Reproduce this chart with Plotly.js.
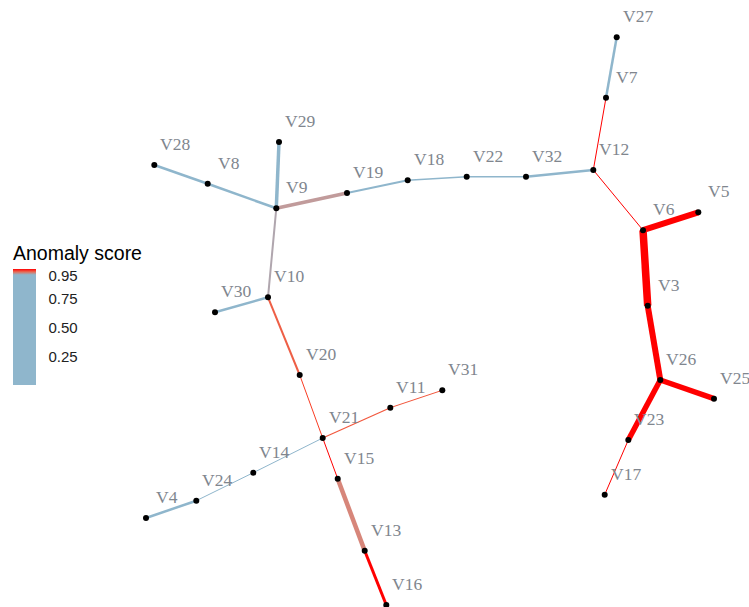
<!DOCTYPE html>
<html>
<head>
<meta charset="utf-8">
<script src="https://cdn.plot.ly/plotly-3.0.1.min.js"></script>
<style>html,body{margin:0;padding:0;background:#fff;}#chart{width:749px;height:607px;}</style>
</head>
<body>
<div id="chart"></div>
<script>
// Node layout
const nodeNames = ["V3","V4","V5","V6","V7","V8","V9","V10","V11","V12","V13","V14","V15","V16","V17","V18","V19","V20","V21","V22","V23","V24","V25","V26","V27","V28","V29","V30","V31","V32"];
const nodeX = [647.7,146,698.3,643,606,207.7,276.3,268,390.3,593.3,364.7,253.3,337.7,386.3,604.7,407.7,347,299.7,322.7,466.7,628.3,196.3,714,660.3,616.7,154.3,279,215,442.3,526];
const nodeY = [305.7,518,212.3,230.2,97.7,183.7,208.3,297.3,407.7,170,550.7,472.7,478.7,605,494.7,180.3,193,375,438,176.7,440,500.7,398.7,380,37.3,165,142,312.3,390.3,176.7];

// Edges
const edgeFrom = ["V28","V8","V29","V9","V19","V18","V22","V32","V12","V7","V12","V6","V6","V3","V26","V26","V23","V9","V10","V10","V20","V21","V11","V21","V14","V24","V21","V15","V13"];
const edgeTo   = ["V8","V9","V9","V19","V18","V22","V32","V12","V7","V27","V6","V5","V3","V26","V25","V23","V17","V10","V30","V20","V21","V11","V31","V14","V24","V4","V15","V13","V16"];
const edgeScore = [0.45,0.52,0.40,0.970,0.55,0.60,0.58,0.50,1.0,0.42,1.0,1.0,1.0,1.0,1.0,1.0,1.0,0.966,0.48,0.988,0.995,0.99,0.99,0.62,0.64,0.47,1.0,0.977,1.0];
const edgeWeight = [2.5,2.5,3.5,3.5,2,1.5,1.5,2.5,1,2.5,1,6,7.5,6,5.5,5.5,1,2,2.5,2,1,1.2,1,1,1,2.5,1,4.5,3];

// Colour scale of the anomaly score
const scoreMin = 0, scoreMax = 1.01;
const scoreStops = [0, 0.96, 1.0, 1.01];
const stopColors = ["#8fb6cc", "#8fb6cc", "#ff0000", "#ff0000"];

// Colorbar ticks
const tickVals = [0.25, 0.50, 0.75, 0.95];
const tickText = ["0.25", "0.50", "0.75", "0.95"];

// --- Lab interpolation helpers ---
function hexToRgb(h){return [parseInt(h.slice(1,3),16),parseInt(h.slice(3,5),16),parseInt(h.slice(5,7),16)];}
function toLin(c){c/=255;return c<=0.04045?c/12.92:Math.pow((c+0.055)/1.055,2.4);}
function fromLin(c){const v=c<=0.0031308?12.92*c:1.055*Math.pow(c,1/2.4)-0.055;return Math.max(0,Math.min(255,Math.round(v*255)));}
const Wn=[0.95047,1,1.08883];
function fLab(t){return t>0.008856?Math.cbrt(t):7.787*t+16/116;}
function fInv(t){return t*t*t>0.008856?t*t*t:(t-16/116)/7.787;}
function rgbToLab(rgb){
  const [r,g,b]=rgb.map(toLin);
  const X=(0.4124*r+0.3576*g+0.1805*b)/Wn[0], Y=(0.2126*r+0.7152*g+0.0722*b)/Wn[1], Z=(0.0193*r+0.1192*g+0.9505*b)/Wn[2];
  const fx=fLab(X),fy=fLab(Y),fz=fLab(Z);
  return [116*fy-16,500*(fx-fy),200*(fy-fz)];
}
function labToRgb(lab){
  const fy=(lab[0]+16)/116, fx=fy+lab[1]/500, fz=fy-lab[2]/200;
  const X=fInv(fx)*Wn[0],Y=fInv(fy)*Wn[1],Z=fInv(fz)*Wn[2];
  const r=3.2406*X-1.5372*Y-0.4986*Z, g=-0.9689*X+1.8758*Y+0.0415*Z, b=0.0557*X-0.2040*Y+1.0570*Z;
  return [fromLin(r),fromLin(g),fromLin(b)];
}
function scoreColor(s){
  for(let i=0;i<scoreStops.length-1;i++){
    if(s<=scoreStops[i+1]){
      const t = Math.max(0,Math.min(1,(s-scoreStops[i])/((scoreStops[i+1]-scoreStops[i])||1)));
      const a = rgbToLab(hexToRgb(stopColors[i])), b = rgbToLab(hexToRgb(stopColors[i+1]));
      const c = labToRgb(a.map((v,k)=>v+(b[k]-v)*t));
      return "rgb("+c.join(",")+")";
    }
  }
  return stopColors[stopColors.length-1];
}
const idx = {}; nodeNames.forEach((n,i)=>idx[n]=i);

const traces = [];
edgeFrom.forEach((f,i)=>{
  const a = idx[f], b = idx[edgeTo[i]];
  traces.push({
    type:"scatter", mode:"lines",
    x:[nodeX[a], nodeX[b]], y:[nodeY[a], nodeY[b]],
    line:{color:scoreColor(edgeScore[i]), width:edgeWeight[i]},
    hoverinfo:"skip", showlegend:false, cliponaxis:false
  });
});
traces.push({
  type:"scatter", mode:"markers", x:nodeX, y:nodeY, text:nodeNames,
  marker:{color:"#000000", size:6}, cliponaxis:false, showlegend:false, hoverinfo:"text"
});
// colour scale for the colorbar, sampled through the same Lab interpolation
const cs = [];
for(let k=0;k<=40;k++){const v=scoreMin+(scoreMax-scoreMin)*k/40; cs.push([k/40, scoreColor(v)]);}
traces.push({
  type:"scatter", mode:"markers", x:[null], y:[null], showlegend:false, hoverinfo:"skip",
  marker:{color:[scoreMin], cmin:scoreMin, cmax:scoreMax, colorscale:cs, showscale:true,
    colorbar:{
      title:{text:"Anomaly score", side:"top", font:{family:"Liberation Sans, Arial, sans-serif", size:19.5, color:"#000"}},
      x:13/749, xanchor:"left", xpad:0, ypad:0,
      y:1-385/607, yanchor:"bottom", len:143, lenmode:"pixels", thickness:23,
      outlinewidth:0, tickvals:tickVals, ticktext:tickText, ticks:"outside", ticklen:10,
      tickcolor:"rgba(0,0,0,0)", tickfont:{family:"Liberation Sans, Arial, sans-serif", size:15, color:"#222"}
    }}
});

const annotations = nodeNames.map((n,i)=>({
  x:nodeX[i], y:nodeY[i], text:n, showarrow:false, xshift:21, yshift:21,
  xanchor:"center", yanchor:"middle",
  font:{family:"Liberation Serif, Times New Roman, serif", size:17.5, color:"#80868e"}
}));

const layout = {
  width:749, height:607, margin:{l:0,r:0,t:0,b:0,autoexpand:false},
  paper_bgcolor:"#fff", plot_bgcolor:"#fff", showlegend:false,
  xaxis:{range:[0,749], visible:false, fixedrange:true},
  yaxis:{range:[607,0], visible:false, fixedrange:true},
  annotations:annotations
};
Plotly.newPlot("chart", traces, layout, {displayModeBar:false, staticPlot:true});
</script>
</body>
</html>
